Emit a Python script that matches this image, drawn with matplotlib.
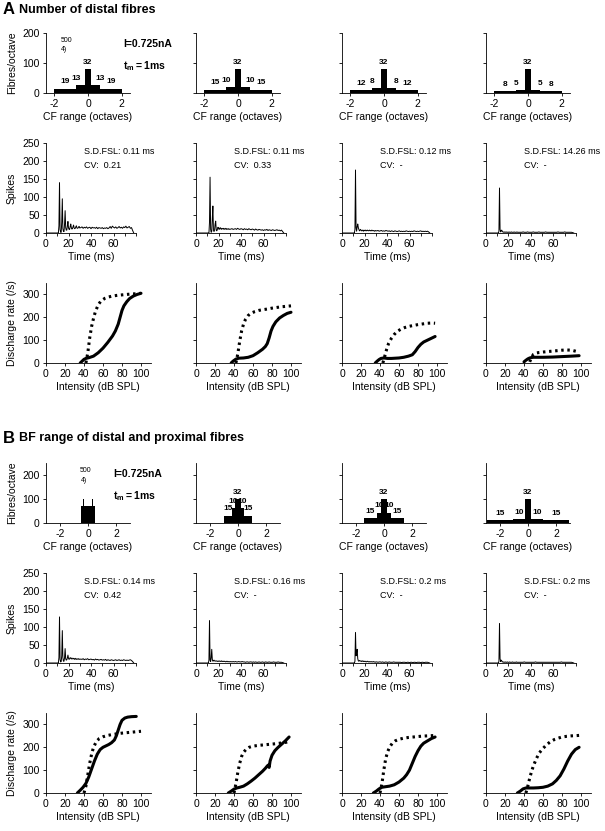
import numpy as np
import matplotlib
matplotlib.use("Agg")
import matplotlib.pyplot as plt

plt.rcParams['font.family'] = ['Liberation Sans', 'DejaVu Sans']
plt.rcParams['mathtext.fontset'] = 'custom'
plt.rcParams['mathtext.rm'] = 'Liberation Sans'
plt.rcParams['mathtext.bf'] = 'Liberation Sans:bold'
plt.rcParams['axes.unicode_minus'] = False

W, H = 605, 831

# ---------------- histogram data (fibres per octave) ----------------
hist_edges_a = [-2, -0.7, -0.2, 0.2, 0.7, 2]
hist_a1 = [14.6, 26, 80, 26, 14.6]
hist_a2 = [11.5, 20, 80, 20, 11.5]
hist_a3 = [9.2, 16, 80, 16, 9.2]
hist_a4 = [6.2, 10, 80, 10, 6.2]
count_a1 = [19, 13, 32, 13, 19]
count_a2 = [15, 10, 32, 10, 15]
count_a3 = [12, 8, 32, 8, 12]
count_a4 = [8, 5, 32, 5, 8]

hist_edges_b1 = [-0.5, -0.34, -0.27, 0.27, 0.34, 0.5]
hist_edges_b2 = [-1, -0.45, -0.2, 0.2, 0.45, 1]
hist_edges_b3 = [-1.45, -0.47, -0.2, 0.2, 0.47, 1.45]
hist_edges_b4 = [-2.9, -1.05, -0.2, 0.2, 1.05, 2.9]
hist_b1 = [72, 100, 72, 100, 72]
hist_b2 = [30, 62, 100, 62, 30]
hist_b3 = [21, 42, 100, 42, 21]
hist_b4 = [11, 16, 100, 16, 11]
count_b2 = [15, 10, 32, 10, 15]
count_b3 = [15, 10, 32, 10, 15]
count_b4 = [15, 10, 32, 10, 15]

# ---------------- PSTH data ----------------
# onset part: 10 .. 30 ms in 0.5 ms steps, tail: 31 .. 78 ms in 1 ms steps
psth_t = list(np.arange(10, 30.5, 0.5)) + list(range(31, 79))
psth_a1 = [0, 0, 0, 20, 140, 10, 2, 2, 30, 95, 12, 5, 4, 25, 62, 15, 8, 8, 20, 32,
           14, 10, 10, 18, 25, 15, 11, 12, 17, 22, 14, 12, 13, 17, 20, 14, 13, 14, 17, 18, 14,
           15, 17, 13, 16, 14, 17, 13, 15, 16, 12, 16, 14, 15, 13, 16, 12, 15, 14, 13, 15,
           12, 14, 13, 15, 12, 14, 18, 13, 19, 16,
           14, 17, 13, 15, 18, 14, 16, 13, 17, 15, 19, 14, 16, 18, 13, 15, 7, 0]
psth_a2 = [0, 0, 0, 0, 30, 155, 10, 2, 5, 40, 75, 8, 4, 8, 25, 33, 8, 6, 10, 16,
           14, 10, 12, 15, 12, 10, 13, 12, 11, 13, 10, 12, 11, 13, 10, 12, 11, 10, 12, 11, 10,
           11, 12, 10, 11, 12, 10, 13, 11, 10, 12, 11, 9, 12, 10, 11, 9, 12, 10, 9, 11,
           10, 8, 11, 9, 8, 10, 9, 8, 9, 7,
           9, 8, 10, 7, 9, 8, 7, 9, 8, 7, 8, 9, 7, 8, 6, 8, 4, 0]
psth_a3 = [0, 0, 0, 10, 175, 15, 5, 18, 25, 15, 10, 6, 8, 10, 7, 6, 8, 7, 5, 8,
           7, 6, 8, 7, 6, 8, 7, 6, 7, 8, 6, 7, 6, 8, 7, 6, 7, 6, 5, 7, 6,
           6, 7, 5, 6, 7, 5, 6, 5, 7, 6, 5, 6, 4, 6, 5, 4, 6, 5, 4, 5,
           6, 4, 5, 4, 5, 4, 6, 5, 4, 5,
           4, 5, 4, 6, 5, 4, 5, 4, 5, 6, 4, 5, 4, 5, 4, 5, 3, 0]
psth_a4 = [0, 0, 0, 5, 125, 10, 3, 6, 8, 4, 3, 2, 3, 2, 3, 2, 2, 3, 2, 2,
           2, 3, 2, 2, 2, 3, 2, 2, 2, 2, 3, 2, 2, 2, 2, 3, 2, 2, 2, 2, 2,
           2, 2, 3, 2, 2, 2, 3, 2, 2, 2, 2, 3, 2, 2, 2, 2, 3, 2, 2, 2,
           2, 2, 3, 2, 2, 2, 2, 2, 2, 2,
           2, 2, 2, 3, 2, 2, 2, 2, 2, 3, 2, 2, 2, 2, 2, 2, 1, 0]
psth_b1 = [0, 0, 0, 15, 128, 10, 3, 4, 20, 90, 15, 5, 5, 15, 40, 12, 8, 9, 14, 22,
           13, 10, 12, 15, 13, 11, 14, 12, 11, 13, 12, 10, 13, 11, 10, 12, 11, 10, 12, 11, 10,
           11, 10, 12, 9, 11, 10, 12, 9, 10, 11, 9, 10, 8, 11, 9, 10, 8, 9, 10, 8,
           9, 8, 10, 7, 9, 8, 7, 9, 8, 7,
           8, 9, 7, 8, 9, 7, 8, 7, 9, 8, 7, 8, 7, 8, 9, 7, 4, 0]
psth_b2 = [0, 0, 0, 8, 118, 8, 4, 15, 38, 10, 5, 6, 8, 6, 5, 6, 5, 6, 5, 4,
           5, 6, 5, 4, 5, 6, 4, 5, 4, 5, 4, 5, 4, 3, 4, 5, 4, 3, 4, 4, 3,
           4, 3, 4, 3, 4, 3, 3, 4, 3, 3, 4, 3, 3, 2, 3, 3, 2, 3, 3, 2,
           3, 2, 3, 2, 2, 3, 2, 2, 3, 2,
           2, 3, 2, 2, 3, 2, 2, 2, 3, 2, 2, 2, 3, 2, 2, 2, 1, 0]
psth_b3 = [0, 0, 0, 5, 85, 20, 30, 38, 12, 6, 5, 7, 6, 5, 6, 4, 5, 6, 4, 5,
           4, 5, 4, 3, 4, 5, 4, 3, 4, 3, 4, 3, 3, 4, 3, 3, 4, 3, 3, 2, 3,
           3, 2, 3, 3, 2, 3, 2, 2, 3, 2, 2, 3, 2, 2, 2, 3, 2, 2, 2, 2,
           2, 2, 1, 2, 2, 2, 1, 2, 2, 1,
           2, 2, 1, 2, 2, 1, 2, 2, 2, 1, 2, 2, 1, 2, 2, 2, 1, 0]
psth_b4 = [0, 0, 0, 5, 110, 12, 4, 8, 6, 3, 3, 2, 3, 2, 2, 3, 2, 2, 3, 2,
           2, 2, 3, 2, 2, 2, 2, 3, 2, 2, 2, 2, 2, 2, 3, 2, 2, 2, 2, 2, 2,
           2, 2, 2, 3, 2, 2, 2, 2, 2, 2, 2, 2, 2, 3, 2, 2, 2, 2, 2, 2,
           2, 2, 2, 2, 2, 2, 2, 2, 2, 2,
           2, 2, 2, 2, 2, 2, 3, 2, 2, 2, 2, 2, 2, 2, 2, 2, 1, 0]
sdfsl_a = ["0.11", "0.11", "0.12", "14.26"]
cv_a = ["0.21", "0.33", "-", "-"]
sdfsl_b = ["0.14", "0.16", "0.2", "0.2"]
cv_b = ["0.42", "-", "-", "-"]

# ---------------- rate-level data ----------------
rl_a1_dx = [42, 44, 46, 48, 50, 52, 55, 58, 62, 66, 70, 75, 80, 85, 90, 95, 100]
rl_a1_dy = [0, 45, 110, 160, 195, 225, 255, 272, 283, 289, 293, 296, 298, 300, 302, 303, 305]
rl_a1_sx = [36, 38, 40, 42, 45, 50, 55, 60, 65, 70, 73, 76, 78, 80, 82, 85, 88, 92, 96, 100]
rl_a1_sy = [0, 8, 16, 20, 23, 30, 45, 65, 90, 118, 140, 170, 200, 230, 250, 268, 282, 293, 300, 305]
rl_a2_dx = [42, 44, 46, 48, 50, 52, 55, 58, 62, 66, 70, 75, 80, 85, 90, 95, 100]
rl_a2_dy = [0, 40, 95, 140, 170, 190, 208, 218, 225, 230, 233, 236, 240, 243, 246, 248, 250]
rl_a2_sx = [37, 39, 42, 45, 50, 55, 60, 65, 70, 73, 75, 77, 79, 81, 84, 88, 92, 96, 100]
rl_a2_sy = [0, 8, 17, 21, 22, 25, 32, 45, 60, 72, 85, 110, 140, 160, 180, 197, 208, 217, 222]
rl_a3_dx = [43, 45, 47, 49, 52, 55, 58, 62, 66, 70, 75, 80, 85, 90, 95, 98]
rl_a3_dy = [0, 30, 60, 85, 108, 125, 138, 148, 155, 160, 164, 168, 171, 174, 175, 174]
rl_a3_sx = [35, 37, 39, 41, 44, 48, 52, 56, 60, 65, 70, 74, 77, 80, 83, 86, 90, 94, 98]
rl_a3_sy = [0, 8, 15, 20, 22, 20, 20, 21, 22, 25, 30, 36, 50, 68, 82, 92, 100, 108, 116]
rl_a4_dx = [46, 48, 50, 53, 56, 60, 65, 70, 75, 80, 85, 90, 94, 98]
rl_a4_dy = [5, 25, 38, 44, 46, 48, 50, 52, 54, 56, 57, 56, 52, 48]
rl_a4_sx = [40, 42, 44, 46, 48, 50, 55, 60, 70, 80, 90, 98]
rl_a4_sy = [5, 12, 18, 22, 24, 25, 25, 25, 26, 28, 30, 32]
rl_b1_dx = [40, 42, 44, 46, 48, 50, 53, 56, 60, 65, 70, 75, 80, 85, 90, 95, 100]
rl_b1_dy = [0, 30, 80, 130, 170, 200, 225, 238, 246, 252, 256, 259, 262, 264, 266, 268, 270]
rl_b1_sx = [33, 36, 39, 42, 45, 48, 51, 54, 57, 60, 63, 66, 69, 72, 74, 76, 78, 80, 83, 86, 90, 95]
rl_b1_sy = [0, 12, 25, 42, 70, 105, 140, 170, 190, 200, 206, 212, 220, 232, 250, 275, 300, 318, 328, 332, 334, 335]
rl_b2_dx = [40, 42, 44, 46, 48, 50, 53, 56, 60, 65, 70, 75, 80, 85, 90, 95, 98]
rl_b2_dy = [0, 40, 90, 130, 160, 178, 192, 200, 205, 208, 210, 212, 214, 216, 219, 222, 225]
rl_b2_sx = [34, 37, 40, 43, 46, 50, 54, 58, 62, 66, 70, 73, 75, 76, 77, 78, 80, 83, 86, 90, 94, 98]
rl_b2_sy = [0, 8, 17, 22, 25, 30, 40, 52, 65, 80, 95, 108, 118, 122, 112, 140, 165, 185, 198, 213, 228, 245]
rl_b3_dx = [40, 42, 44, 46, 48, 50, 53, 56, 60, 65, 70, 75, 80, 85, 90, 95, 98]
rl_b3_dy = [0, 40, 100, 150, 180, 200, 218, 228, 235, 240, 243, 245, 247, 249, 250, 251, 252]
rl_b3_sx = [33, 36, 39, 42, 45, 50, 55, 60, 65, 68, 71, 74, 77, 80, 83, 86, 90, 94, 98]
rl_b3_sy = [0, 8, 18, 25, 27, 30, 36, 48, 65, 80, 100, 130, 160, 185, 205, 218, 228, 238, 245]
rl_b4_dx = [42, 44, 46, 48, 50, 53, 56, 60, 64, 68, 72, 76, 80, 85, 90, 95, 98]
rl_b4_dy = [0, 30, 65, 95, 120, 150, 175, 195, 212, 225, 234, 240, 245, 248, 250, 251, 252]
rl_b4_sx = [33, 36, 39, 42, 46, 50, 55, 60, 65, 70, 74, 78, 82, 86, 90, 94, 98]
rl_b4_sy = [0, 8, 18, 22, 22, 22, 23, 25, 30, 40, 55, 75, 105, 140, 170, 190, 200]


fig = plt.figure(figsize=(W / 100, H / 100), dpi=100)


def px_axes(left, top, width, height):
    return fig.add_axes([left / W, 1 - (top + height) / H, width / W, height / H])


def ftext(x, y, s, **kw):
    fig.text(x / W, 1 - y / H, s, **kw)


def style(ax, show_labels):
    for side in ('top', 'right'):
        ax.spines[side].set_visible(False)
    for side in ('left', 'bottom'):
        ax.spines[side].set_linewidth(0.6)
    ax.tick_params(direction='out', length=2.5, width=0.6, labelsize=7.5, pad=2)
    if not show_labels:
        ax.tick_params(axis='y', labelleft=False)


col_left = [46, 196, 342, 486]
tsize = 7.5
# where the count labels sit in panel A (octaves)
label_x_a = [-1.35, -0.7, 0, 0.7, 1.35]

ftext(3, 10, "A", size=12, weight='bold', va='center')
ftext(19, 10, "Number of distal fibres", size=9, weight='bold', va='center')
ftext(3, 438, "B", size=12, weight='bold', va='center')
ftext(19, 438, "BF range of distal and proximal fibres", size=9, weight='bold', va='center')

rows = [
    dict(hist_top=33, hist_ylim=200, hist_edges=[hist_edges_a] * 4, hist_xlim=2.5,
         hists=[hist_a1, hist_a2, hist_a3, hist_a4],
         counts=[count_a1, count_a2, count_a3, count_a4], label_x=label_x_a,
         psth_top=143, psths=[psth_a1, psth_a2, psth_a3, psth_a4],
         sdfsl=sdfsl_a, cv=cv_a, rl_top=283,
         rls=[(rl_a1_dx, rl_a1_dy, rl_a1_sx, rl_a1_sy), (rl_a2_dx, rl_a2_dy, rl_a2_sx, rl_a2_sy),
              (rl_a3_dx, rl_a3_dy, rl_a3_sx, rl_a3_sy), (rl_a4_dx, rl_a4_dy, rl_a4_sx, rl_a4_sy)]),
    dict(hist_top=463, hist_ylim=250, hist_edges=[hist_edges_b1, hist_edges_b2, hist_edges_b3, hist_edges_b4],
         hist_xlim=3,
         hists=[hist_b1, hist_b2, hist_b3, hist_b4],
         counts=[None, count_b2, count_b3, count_b4], label_x=None,
         psth_top=573, psths=[psth_b1, psth_b2, psth_b3, psth_b4],
         sdfsl=sdfsl_b, cv=cv_b, rl_top=713,
         rls=[(rl_b1_dx, rl_b1_dy, rl_b1_sx, rl_b1_sy), (rl_b2_dx, rl_b2_dy, rl_b2_sx, rl_b2_sy),
              (rl_b3_dx, rl_b3_dy, rl_b3_sx, rl_b3_sy), (rl_b4_dx, rl_b4_dy, rl_b4_sx, rl_b4_sy)]),
]

for r, row in enumerate(rows):
    for c in range(4):
        x0 = col_left[c]
        # histogram of fibres
        ax = px_axes(x0, row['hist_top'], 84, 60)
        edges = row['hist_edges'][c]
        dens = row['hists'][c]
        lefts = np.array(edges[:-1])
        widths = np.diff(edges)
        ax.bar(lefts, dens, width=widths, align='edge', color='black', linewidth=0)
        cnt = row['counts'][c]
        if cnt is not None:
            lx = row['label_x'] if row['label_x'] is not None else lefts + widths / 2
            for x, d, n in zip(lx, dens, cnt):
                ax.annotate(str(n), (x, d), xytext=(0, 5), textcoords='offset points',
                            ha='center', va='center', size=6, weight='bold')
        ax.set_xlim(-row['hist_xlim'], row['hist_xlim'])
        ax.set_ylim(0, row['hist_ylim'])
        ax.set_xticks([-2, 0, 2])
        ax.set_yticks([0, 100, 200])
        style(ax, c == 0)
        ax.set_xlabel("CF range (octaves)", size=tsize, labelpad=2)
        if c == 0:
            top = row['hist_top']
            ax.text(0.25 if r == 0 else 0.47, 0.88, "500", transform=ax.transAxes,
                    size=5, ha='center', va='center')
            ax.text(0.22 if r == 0 else 0.45, 0.73 if r == 0 else 0.70, "4)", transform=ax.transAxes,
                    size=5, ha='center', va='center')
            ftext(x0 + 77 - (10 if r == 1 else 0), top + 11, "I=0.725nA", size=7.5, weight='bold', va='center')
            ftext(x0 + 77 - (10 if r == 1 else 0), top + 33,
                  r"$\mathbf{t}_{\mathbf{m}}\mathbf{=1ms}$", size=7.5, va='center')
            ftext(12, top + 30, "Fibres/octave", size=tsize, rotation=90, ha='center', va='center')

        # PSTH
        ax = px_axes(x0, row['psth_top'], 90, 90)
        ax.plot([0] + psth_t, [0] + row['psths'][c], color='black', lw=0.7)
        ax.set_xlim(0, 80)
        ax.set_ylim(0, 250)
        ax.set_xticks(range(0, 90, 10))
        ax.set_xticklabels(['0', '', '20', '', '40', '', '60', '', ''])
        ax.set_yticks(range(0, 300, 50))
        style(ax, c == 0)
        ax.set_xlabel("Time (ms)", size=tsize, labelpad=2)
        ax.text(0.42, 0.9, "S.D.FSL: " + row['sdfsl'][c] + " ms", transform=ax.transAxes,
                size=6.5, va='center')
        ax.text(0.42, 0.755, "CV:  " + row['cv'][c], transform=ax.transAxes, size=6.5, va='center')
        if c == 0:
            ftext(12, row['psth_top'] + 45, "Spikes", size=tsize, rotation=90, ha='center', va='center')

        # rate-level functions
        ax = px_axes(x0, row['rl_top'], 104.5, 80)
        dx, dy, sx, sy = row['rls'][c]
        ax.plot(dx, dy, color='black', lw=2.2, linestyle=(0, (0.8, 1.2)), solid_capstyle='butt')
        ax.plot(sx, sy, color='black', lw=2.2, solid_capstyle='round')
        ax.set_xlim(0, 110)
        ax.set_ylim(0, 350)
        ax.set_xticks(range(0, 120, 20))
        ax.set_yticks([0, 100, 200, 300])
        style(ax, c == 0)
        ax.set_xlabel("Intensity (dB SPL)", size=tsize, labelpad=2)
        if c == 0:
            ftext(12, row['rl_top'] + 40, "Discharge rate (/s)", size=tsize, rotation=90,
                  ha='center', va='center')

fig.savefig("out.png", dpi=100)
